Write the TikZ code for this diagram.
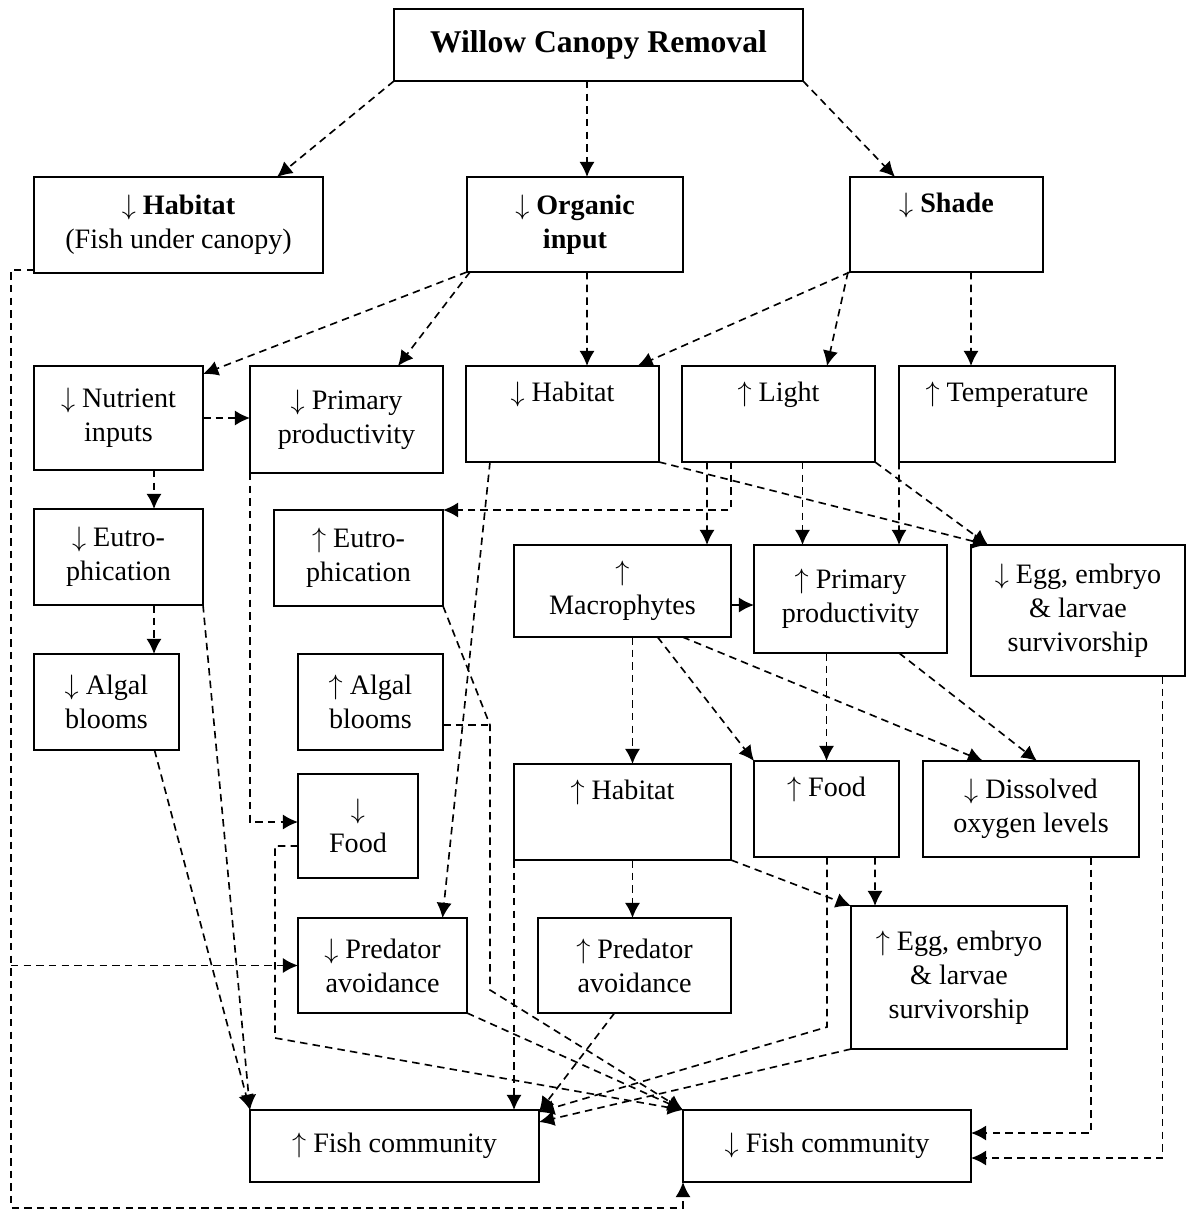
\documentclass[tikz,border=0pt]{standalone}
\usepackage{fontspec}
\setmainfont{Liberation Serif}
\usetikzlibrary{arrows.meta}
\newcommand{\pxu}{0.015cm}
\newcommand{\bodyfont}{\fontsize{12pt}{14.5pt}\selectfont}
\newcommand{\darr}{$\downarrow$}
\newcommand{\uarr}{$\uparrow$}
\tikzset{
  box/.style 2 args={draw, line width=0.9pt, minimum width=#1*\pxu, minimum height=#2*\pxu,
    inner sep=1pt, outer sep=0pt, align=center, font=\bodyfont},
  conn/.style={line width=0.7pt, dash pattern=on 3.2pt off 2.2pt, -{Latex[length=6.5pt,width=6.5pt]}},
  plainconn/.style={line width=0.7pt, dash pattern=on 3.2pt off 2.2pt},
}
\begin{document}
\begin{tikzpicture}[x=0.015cm, y=-0.015cm]
\useasboundingbox (0,0) rectangle (1186,1219);
% row 1
\node[box={409}{72}] (W) at (598.5,45) {\fontsize{13.5pt}{16pt}\selectfont\textbf{Willow Canopy Removal}};
% row 2
\node[box={289}{96}] (Hab1) at (178.5,225) {\darr{} \textbf{Habitat}\\(Fish under canopy)};
\node[box={216}{95}] (Org) at (575,224.5) {\darr{} \textbf{Organic}\\\textbf{input}};
\node[box={193}{95}] (Shade) at (946.5,224.5) {\darr{} \textbf{Shade}\\\strut};
% row 3
\node[box={169}{104}] (Nut) at (118.5,418) {\darr{} Nutrient\\inputs};
\node[box={193}{107}] (PP1) at (346.5,419.5) {\darr{} Primary\\productivity};
\node[box={193}{96}] (Hab2) at (562.5,414) {\darr{} Habitat\\\strut};
\node[box={193}{96}] (Light) at (778.5,414) {\uarr{} Light\\\strut};
\node[box={216}{96}] (Temp) at (1007,414) {\uarr{} Temperature\\\strut};
% row 4
\node[box={169}{96}] (Eut1) at (118.5,557) {\darr{} Eutro-\\phication};
\node[box={169}{96}] (Eut2) at (358.5,558) {\uarr{} Eutro-\\phication};
\node[box={217}{92}] (Mac) at (622.5,591) {\uarr\\Macrophytes};
\node[box={193}{108}] (PP2) at (850.5,599) {\uarr{} Primary\\productivity};
\node[box={214}{131}] (Egg1) at (1078,610.5) {\darr{} Egg, embryo\\\& larvae\\survivorship};
% row 5
\node[box={145}{96}] (Alg1) at (106.5,702) {\darr{} Algal\\blooms};
\node[box={145}{96}] (Alg2) at (370.5,702) {\uarr{} Algal\\blooms};
\node[box={217}{96}] (Hab3) at (622.5,812) {\uarr{} Habitat\\\strut};
\node[box={145}{96}] (Food2) at (826.5,809) {\uarr{} Food\\\strut};
\node[box={216}{96}] (DO) at (1031,809) {\darr{} Dissolved\\oxygen levels};
% row 6
\node[box={120}{104}] (Food1) at (358,826) {\darr\\Food};
\node[box={169}{95}] (Pred1) at (382.5,965.5) {\darr{} Predator\\avoidance};
\node[box={193}{95}] (Pred2) at (634.5,965.5) {\uarr{} Predator\\avoidance};
\node[box={216}{143}] (Egg2) at (959,977.5) {\uarr{} Egg, embryo\\\& larvae\\survivorship};
% row 7
\node[box={289}{72}] (Fish1) at (394.5,1146) {\uarr{} Fish community};
\node[box={288}{72}] (Fish2) at (827,1146) {\darr{} Fish community};

% helper coordinates
\coordinate (lbus) at (11,1208);
\coordinate (fbend) at (275,1038);
\coordinate (ejoin) at (490,725);
\coordinate (ebend) at (490,990);
\coordinate (fbend2) at (827,1027);

% connectors from the top
\draw[conn] (W.south west) -- ([xshift=98.5*\pxu]Hab1.north);
\draw[conn] ([xshift=-11.5*\pxu]W.south) -- ([xshift=12*\pxu]Org.north);
\draw[conn] (W.south east) -- ([xshift=-51.5*\pxu]Shade.north);
\draw[conn] ([yshift=3*\pxu]Hab1.south west) -| (lbus) -| (Fish2.south west);
\draw[conn] (lbus |- Pred1.west) -- (Pred1.west);
\draw[conn] (Org.south west) -- ([yshift=-8*\pxu]Nut.north east);
\draw[conn] ([xshift=3*\pxu]Org.south west) -- ([xshift=51.5*\pxu]PP1.north);
\draw[conn] ([xshift=12*\pxu]Org.south) -- ([xshift=24.5*\pxu]Hab2.north);
\draw[conn] (Shade.south west) -- ([xshift=75*\pxu]Hab2.north);
\draw[conn] ([xshift=-2*\pxu]Shade.south west) -- ([xshift=48.5*\pxu]Light.north);
\draw[conn] ([xshift=24.5*\pxu]Shade.south) -- ([xshift=-36*\pxu]Temp.north);
% row 3 outgoing
\draw[conn] (Nut.east) -- (Nut.east -| PP1.west);
\draw[conn] ([xshift=35.5*\pxu]Nut.south) -- ([xshift=35.5*\pxu]Eut1.north);
\draw[conn] ([xshift=35.5*\pxu]Eut1.south) -- ([xshift=47.5*\pxu]Alg1.north);
\draw[conn] (PP1.south west) |- ([yshift=4*\pxu]Food1.west);
\draw[conn] ([xshift=24*\pxu]Hab2.south west) -- ([xshift=60*\pxu]Pred1.north);
\draw[conn] ([xshift=25*\pxu]Light.south west) -- ([xshift=84.5*\pxu]Mac.north);
\draw[conn] ([xshift=49*\pxu]Light.south west) |- (Eut2.north east);
\draw[conn] ([xshift=24*\pxu]Light.south) -- ([xshift=-48*\pxu]PP2.north);
\draw[conn] (Temp.south west) -- ([xshift=48.5*\pxu]PP2.north);
\draw[conn] (Light.south east) -- ([xshift=17*\pxu]Egg1.north west);
\draw[conn] (Hab2.south east) -- ([xshift=17*\pxu]Egg1.north west);
% row 4 outgoing
\draw[conn] ([yshift=-14*\pxu]Mac.east) -- ([yshift=-6*\pxu]PP2.west);
\draw[conn] ([xshift=10*\pxu]Mac.south) -- ([xshift=10*\pxu]Hab3.north);
\draw[conn] ([xshift=35*\pxu]Mac.south) -- (Food2.north west);
\draw[conn] ([xshift=60*\pxu]Mac.south) -- ([xshift=-48*\pxu]DO.north);
\draw[conn] ([xshift=-24*\pxu]PP2.south) -- (Food2.north);
\draw[conn] ([xshift=48.5*\pxu]PP2.south) -- ([xshift=6*\pxu]DO.north);
\draw[conn] ([xshift=84.5*\pxu]Egg1.south) |- ([yshift=-12*\pxu]Fish2.east);
\draw[conn] ([xshift=60*\pxu]DO.south) |- ([yshift=13*\pxu]Fish2.east);
% left column to fish community
\draw[conn] (Eut1.south east) -- (Fish1.north west);
\draw[conn] ([xshift=48*\pxu]Alg1.south) -- (Fish1.north west);
\draw[conn] ([yshift=-20*\pxu]Food1.west) -| (fbend) -- (Fish2.north west);
\draw[conn] (Pred1.south east) -- (Fish2.north west);
\draw[conn] (Eut2.south east) -- (ejoin) -- (ebend) -- (Fish2.north west);
\draw[plainconn] ([yshift=-23*\pxu]Alg2.east) -- (ejoin);
% habitat and food
\draw[conn] (Hab3.south west) -- (Hab3.south west |- Fish1.north);
\draw[conn] ([xshift=10*\pxu]Hab3.south) -- ([xshift=-2*\pxu]Pred2.north);
\draw[conn] (Hab3.south east) -- (Egg2.north west);
\draw[conn] ([xshift=48.5*\pxu]Food2.south) -- ([xshift=-84*\pxu]Egg2.north);
\draw[conn] ([xshift=0.5*\pxu]Food2.south) -- (fbend2) -- ([yshift=-2*\pxu]Fish1.north east);
\draw[conn] (Egg2.south west) -- ([yshift=-12*\pxu]Fish1.north east);
\draw[conn] ([xshift=-20*\pxu]Pred2.south) -- ([yshift=-2*\pxu]Fish1.north east);
\end{tikzpicture}
\end{document}
